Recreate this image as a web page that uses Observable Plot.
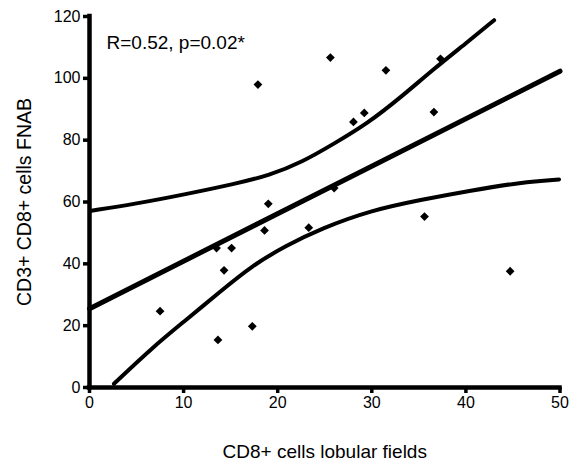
<!DOCTYPE html>
<html>
<head>
<meta charset="utf-8">
<script src="https://cdn.jsdelivr.net/npm/d3@7"></script>
<script src="https://cdn.jsdelivr.net/npm/@observablehq/plot@0.6"></script>
<style>
  html, body { margin: 0; padding: 0; background: #fff; }
</style>
</head>
<body>
<div id="chart"></div>
<script>
// Scatter data (CD8+ cells lobular fields vs CD3+ CD8+ cells FNAB)
const ptX = [7.5, 13.5, 15.1, 14.3, 13.65, 17.3, 18.6, 19.0, 17.9, 25.6, 31.5, 37.3, 28.05, 29.2, 36.6, 26.0, 35.6, 23.3, 44.7];
const ptY = [24.7, 45.1, 45.1, 37.9, 15.4, 19.8, 50.8, 59.4, 98.0, 106.7, 102.6, 106.3, 85.9, 88.8, 89.1, 64.5, 55.3, 51.7, 37.6];

// Regression line
const regX = [0, 50];
const regY = [25.5, 102.3];

// Upper confidence band
const upperX = [0.2, 4.9, 10.2, 15.5, 19.1, 22.6, 26.0, 29.5, 33.1, 36.6, 40.2, 43.0];
const upperY = [57.2, 59.4, 62.5, 65.9, 68.6, 72.9, 78.9, 85.3, 93.9, 103.1, 111.8, 118.8];

// Lower confidence band
const lowerX = [2.6, 6.7, 10.2, 13.8, 17.3, 20.9, 24.6, 29.9, 35.2, 40.5, 45.9, 49.9];
const lowerY = [1.2, 13.0, 21.7, 30.8, 39.5, 45.9, 51.4, 57.3, 60.7, 63.7, 66.4, 67.3];

// Ticks and labels
const xTicks = [0, 10, 20, 30, 40, 50];
const yTicks = [0, 20, 40, 60, 80, 100, 120];
const xLabel = "CD8+ cells lobular fields";
const yLabel = "CD3+ CD8+ cells FNAB";
const annotation = "R=0.52, p=0.02*";

const points = ptX.map((x, i) => ({x, y: ptY[i]}));
const reg = regX.map((x, i) => ({x, y: regY[i]}));
const upper = upperX.map((x, i) => ({x, y: upperY[i]}));
const lower = lowerX.map((x, i) => ({x, y: lowerY[i]}));

const font = "'Liberation Sans', Arial, Helvetica, sans-serif";

const chart = Plot.plot({
  width: 570,
  height: 467,
  marginLeft: 89,
  marginRight: 10.5,
  marginTop: 16,
  marginBottom: 80,
  style: {fontFamily: font, fontSize: "16px", color: "black", background: "white"},
  x: {domain: [0, 50]},
  y: {domain: [0, 120]},
  marks: [
    Plot.axisX({ticks: xTicks, tickSize: 6, tickPadding: 3, strokeWidth: 3.5, label: null, fontSize: 16}),
    Plot.axisY({ticks: yTicks, tickSize: 6, tickPadding: 3, strokeWidth: 3.5, label: null, fontSize: 16}),
    Plot.line(upper, {x: "x", y: "y", curve: "basis", stroke: "black", strokeWidth: 4}),
    Plot.line(lower, {x: "x", y: "y", curve: "basis", stroke: "black", strokeWidth: 4}),
    Plot.line(reg, {x: "x", y: "y", stroke: "black", strokeWidth: 5}),
    Plot.dot(points, {x: "x", y: "y", symbol: "square", rotate: 45, r: 3.5, fill: "black", stroke: "none"}),
    Plot.ruleX([0], {stroke: "black", strokeWidth: 4.5, strokeLinecap: "square"}),
    Plot.ruleY([0], {stroke: "black", strokeWidth: 4.5, strokeLinecap: "square"}),
    Plot.text([annotation], {frameAnchor: "top-left", dx: 17, dy: 26, textAnchor: "start", lineAnchor: "middle", fontSize: 19, fill: "black"}),
    Plot.text([xLabel], {frameAnchor: "bottom", dy: 64, textAnchor: "middle", lineAnchor: "middle", fontSize: 19, fill: "black"}),
    Plot.text([yLabel], {frameAnchor: "left", dx: -65, rotate: -90, textAnchor: "middle", lineAnchor: "middle", fontSize: 19.5, fill: "black"})
  ]
});

document.getElementById("chart").appendChild(chart);
</script>
</body>
</html>
